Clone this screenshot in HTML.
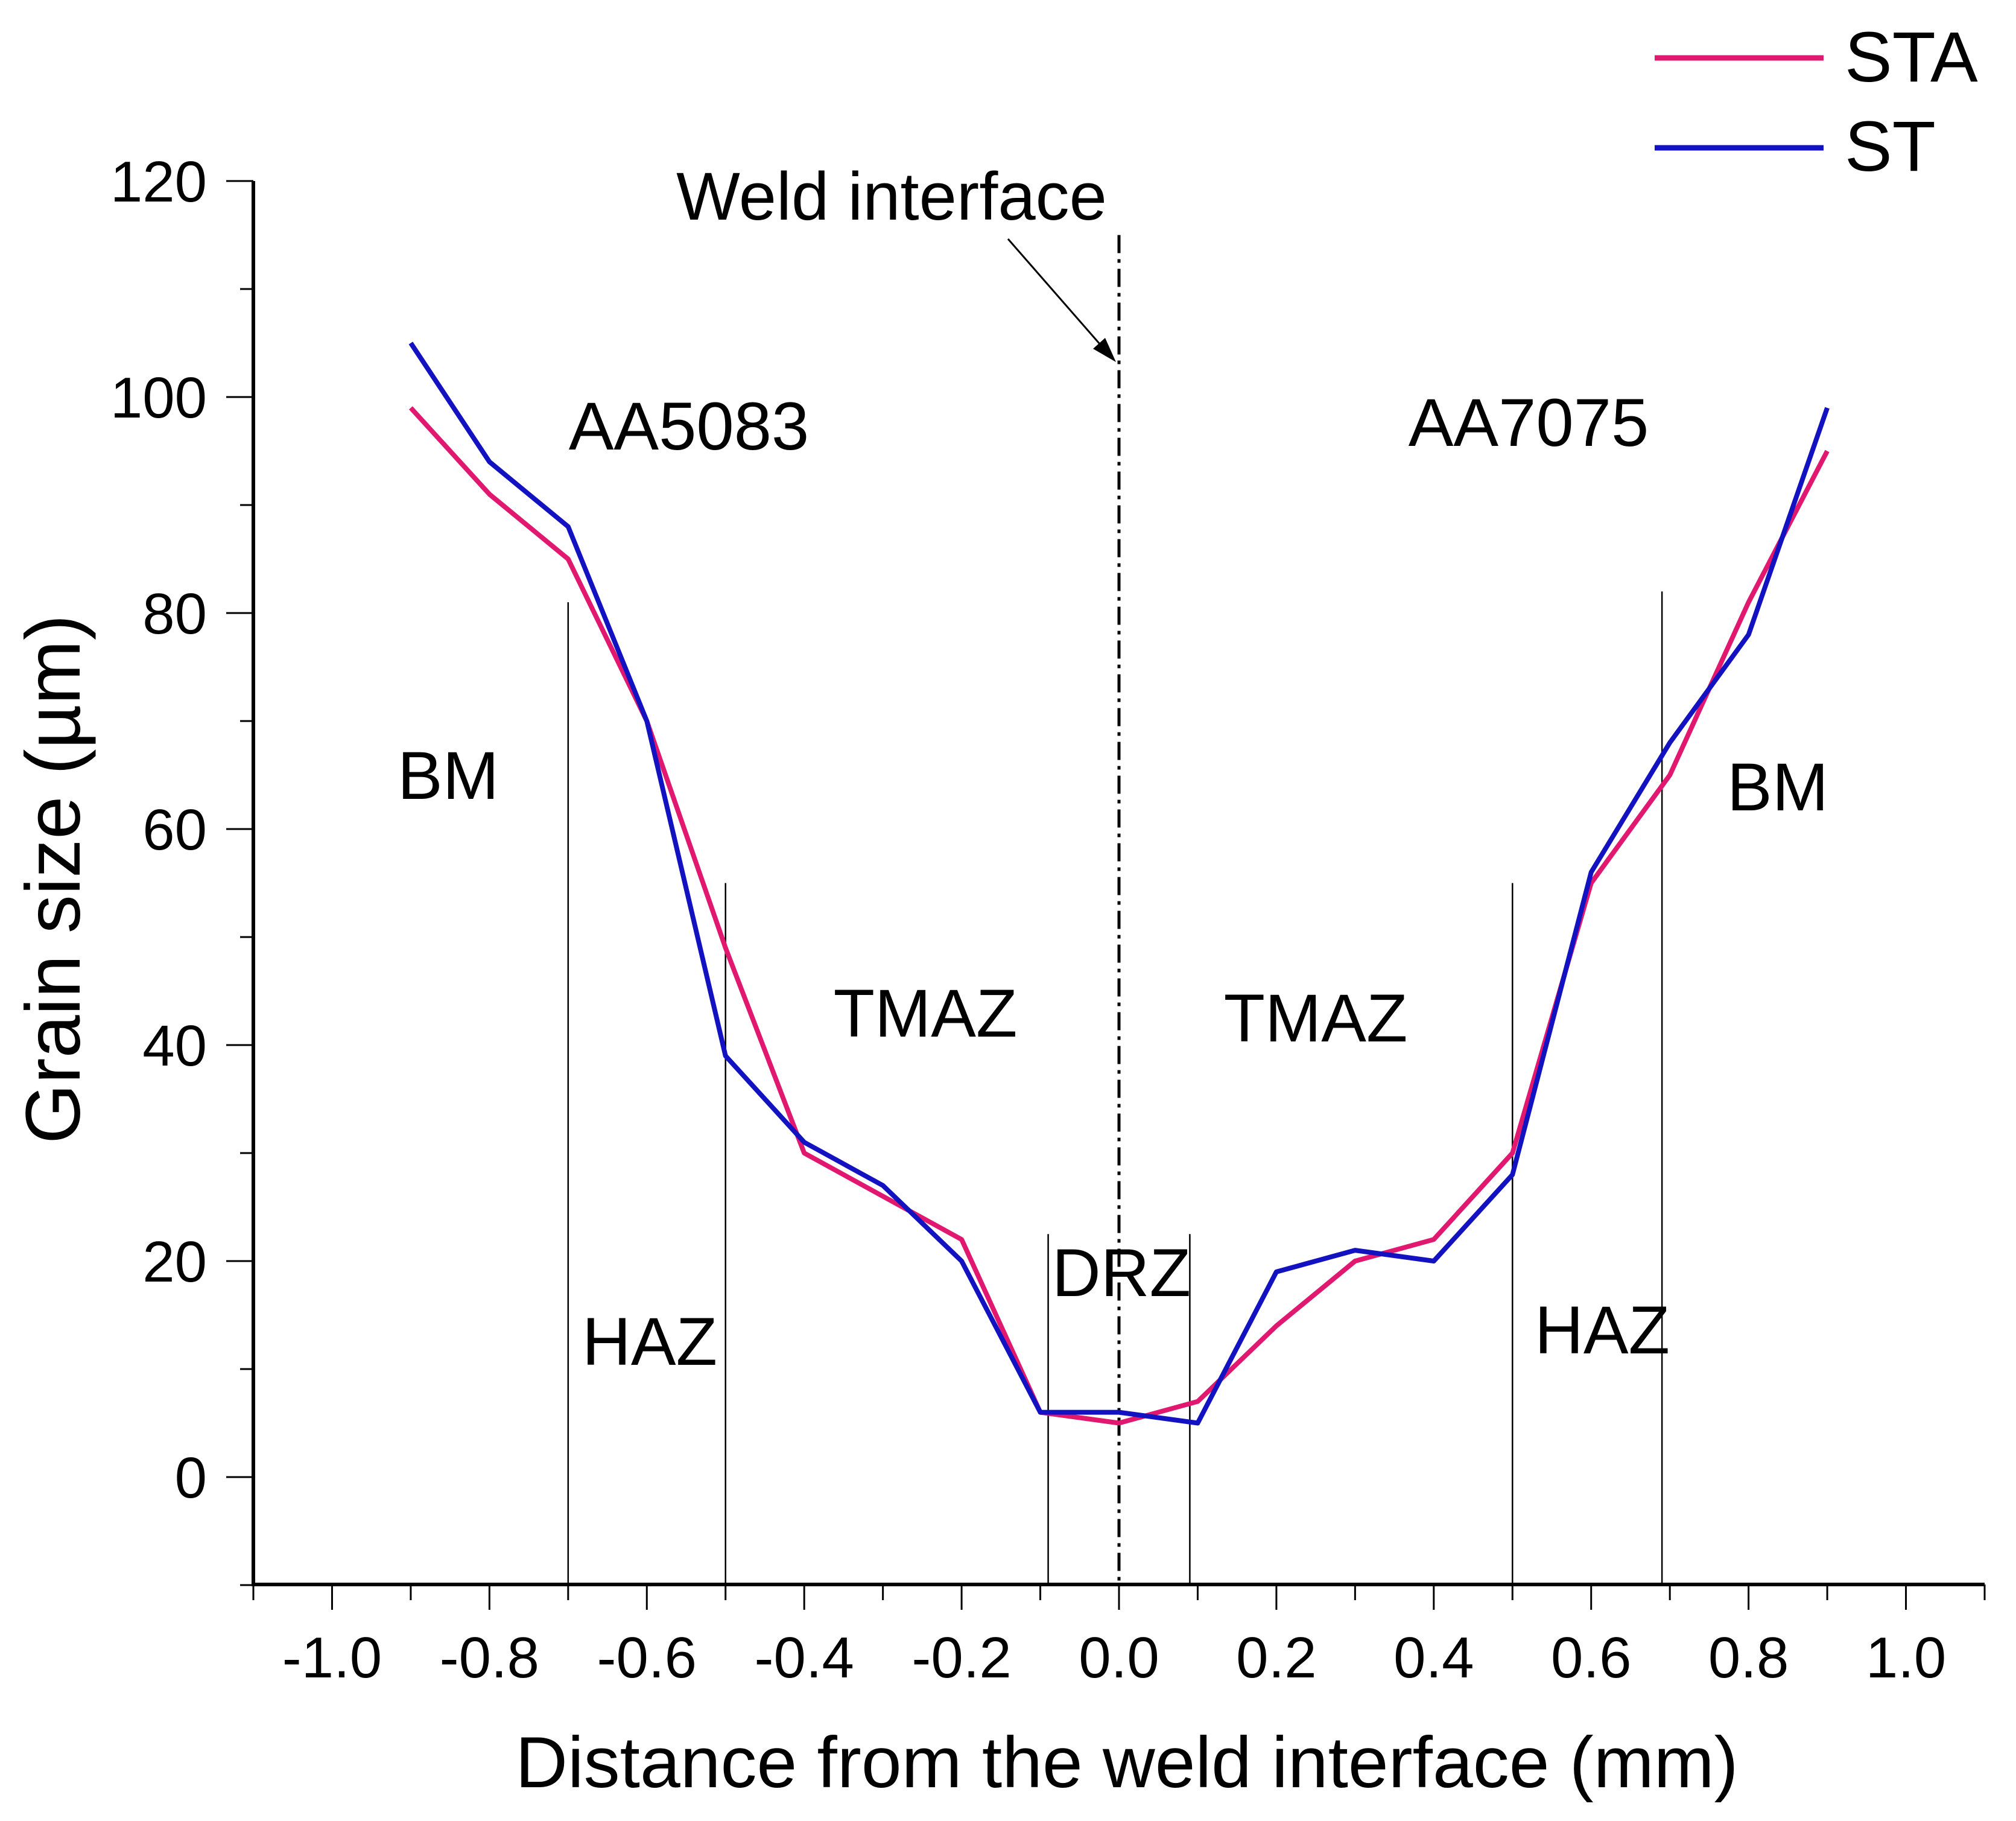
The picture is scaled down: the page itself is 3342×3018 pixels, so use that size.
<!DOCTYPE html>
<html><head><meta charset="utf-8"><style>
html,body{margin:0;padding:0;background:#fff;}
svg{display:block;font-family:"Liberation Sans",Arial,sans-serif;}
</style></head><body>
<svg id="chart" width="3342" height="3018" viewBox="0 0 3342 3018" xmlns="http://www.w3.org/2000/svg">
<g id="axes"></g>
<g id="zones"></g>
<g id="series"></g>
<g id="labels">
  <text x="1478" y="364" font-size="112" text-anchor="middle">Weld interface</text>
  <text x="1142" y="745" font-size="112" text-anchor="middle">AA5083</text>
  <text x="2534" y="739" font-size="112" text-anchor="middle">AA7075</text>
  <text x="743" y="1324" font-size="112" text-anchor="middle">BM</text>
  <text x="2947" y="1343" font-size="112" text-anchor="middle">BM</text>
  <text x="1534" y="1718" font-size="112" text-anchor="middle">TMAZ</text>
  <text x="2181" y="1726" font-size="112" text-anchor="middle">TMAZ</text>
  <text x="1859" y="2148" font-size="112" text-anchor="middle">DRZ</text>
  <text x="1077" y="2262" font-size="112" text-anchor="middle">HAZ</text>
  <text x="2656" y="2243" font-size="112" text-anchor="middle">HAZ</text>
  <text x="0" y="0" font-size="128" text-anchor="middle" transform="translate(132,1457) rotate(-90)">Grain size (µm)</text>
  <text x="1868" y="2962" font-size="120" text-anchor="middle">Distance from the weld interface (mm)</text>
  <line x1="1671" y1="396" x2="1830" y2="578" stroke="#000" stroke-width="3"/>
  <polygon points="1850,600 1812,578 1832,560" fill="#000"/>
</g>
<g id="legend">
  <line x1="2743" y1="96" x2="3023" y2="96" stroke="#e0186f" stroke-width="9"/>
  <text x="3058" y="135" font-size="118">STA</text>
  <line x1="2743" y1="245" x2="3023" y2="245" stroke="#1212c0" stroke-width="9"/>
  <text x="3058" y="283" font-size="118">ST</text>
</g>
</svg>
<script>
const xCats = [-0.9,-0.8,-0.7,-0.6,-0.5,-0.4,-0.3,-0.2,-0.1,0,0.1,0.2,0.3,0.4,0.5,0.6,0.7,0.8,0.9];
const staValues = [99,91,85,70,49,30,26,22,6,5,7,14,20,22,30,55,65,81,95];
const stValues = [105,94,88,70,39,31,27,20,6,6,5,19,21,20,28,56,68,78,99];
const xTickLabels = ["-1.0","-0.8","-0.6","-0.4","-0.2","0.0","0.2","0.4","0.6","0.8","1.0"];
const yTickLabels = ["0","20","40","60","80","100","120"];
const zoneX = [-0.7,-0.5,-0.09,0.09,0.5,0.69];
const zoneTop = [81,55,22.5,22.5,55,82];

const L=420,R=3290,T=300,B=2626;
const xMin=-1.1,xMax=1.1,yMin=-10.1,yMax=120;
const y0px=2448, yPer=(2448-300)/120;
function sx(v){return L+(v-xMin)/(xMax-xMin)*(R-L);}
function sy(v){return y0px-v*yPer;}
const NS="http://www.w3.org/2000/svg";
function mk(tag,parent,attrs){const e=document.createElementNS(NS,tag);for(const k in attrs)e.setAttribute(k,attrs[k]);parent.appendChild(e);return e;}
const axes=document.getElementById('axes');
let e;
e=mk('line',axes,{x1:L,y1:T,x2:L,y2:B+3,stroke:'#000','stroke-width':6});


e=mk('line',axes,{x1:L-3,y1:B,x2:R,y2:B,stroke:'#000','stroke-width':6});


// x ticks
for(let i=0;i<=22;i++){
  const v=-1.1+i*0.1; const major=(i%2===1);
  e=mk('line',axes,{x1:sx(v),y1:B,x2:sx(v),y2:B+(major?42:26),stroke:'#000','stroke-width':3});
  
  
}
xTickLabels.forEach(function(t){
  const v=parseFloat(t);
  e=mk('text',axes,{x:sx(v),y:2780,'font-size':96,'text-anchor':'middle'});
  e.textContent=t;
  
  
});
for(let v=-10;v<=120;v+=10){
  const major=(v%20===0);
  e=mk('line',axes,{x1:L,y1:sy(v),x2:L-(major?45:22),y2:sy(v),stroke:'#000','stroke-width':3});
  
  
}
yTickLabels.forEach(function(t){
  const v=parseFloat(t);
  e=mk('text',axes,{x:343,y:sy(v)+34,'font-size':96,'text-anchor':'end'});
  e.textContent=t;
  
  
});
const zones=document.getElementById('zones');
zoneX.forEach(function(x,i){
  e=mk('line',zones,{x1:sx(x),y1:sy(zoneTop[i]),x2:sx(x),y2:B,stroke:'#000','stroke-width':2.5});
  
  
});
e=mk('line',zones,{x1:sx(0),y1:sy(115),x2:sx(0),y2:B,stroke:'#000','stroke-width':5,'stroke-dasharray':'30 10 6 10'});


const series=document.getElementById('series');
function pts(vals){return xCats.map(function(x,i){return sx(x)+','+sy(vals[i]);}).join(' ');}
e=mk('polyline',series,{points:pts(staValues),fill:'none',stroke:'#e0186f','stroke-width':8,'stroke-linejoin':'round'});


e=mk('polyline',series,{points:pts(stValues),fill:'none',stroke:'#1212c0','stroke-width':8,'stroke-linejoin':'round'});


</script>
</body></html>
